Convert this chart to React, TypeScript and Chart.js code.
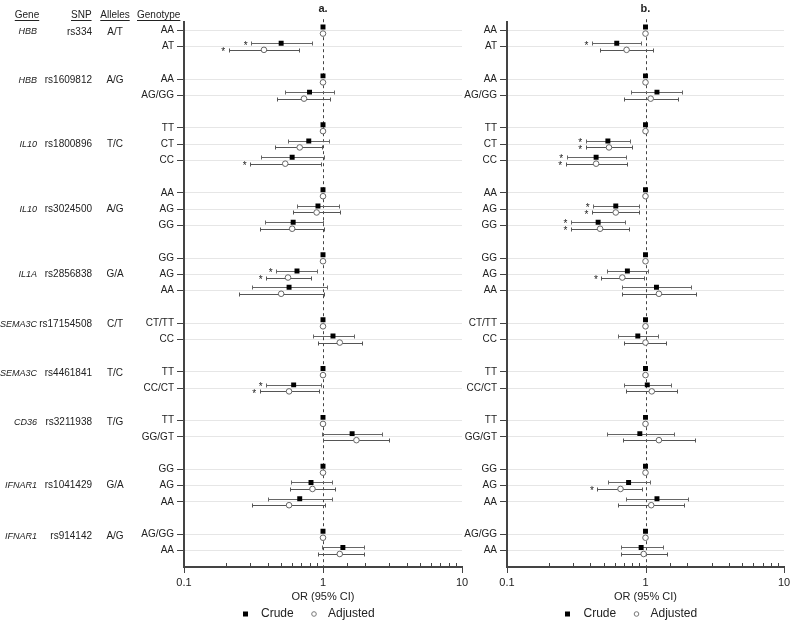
import React, { useEffect, useRef } from 'react';
import { Chart, registerables } from 'chart.js';
Chart.register(...registerables);

const FONT = "'Liberation Sans', Arial, Helvetica, sans-serif";

// ---- table columns ----
const genes = ['HBB', 'HBB', 'IL10', 'IL10', 'IL1A', 'SEMA3C', 'SEMA3C', 'CD36', 'IFNAR1', 'IFNAR1'];
const snps = ['rs334', 'rs1609812', 'rs1800896', 'rs3024500', 'rs2856838', 'rs17154508', 'rs4461841', 'rs3211938', 'rs1041429', 'rs914142'];
const alleles = ['A/T', 'A/G', 'T/C', 'A/G', 'G/A', 'C/T', 'T/C', 'T/G', 'G/A', 'A/G'];
const groupSizes = [2, 2, 3, 3, 3, 2, 2, 2, 3, 2];
const genotypes = ['AA', 'AT', 'AA', 'AG/GG', 'TT', 'CT', 'CC', 'AA', 'AG', 'GG', 'GG', 'AG', 'AA', 'CT/TT', 'CC', 'TT', 'CC/CT', 'TT', 'GG/GT', 'GG', 'AG', 'AA', 'AG/GG', 'AA'];
const headers = ['Gene', 'SNP', 'Alleles', 'Genotype'];
const xTickLabels = [0.1, 1, 10];
const legendLabels = ['Crude', 'Adjusted'];

// ---- panel a ----
const crudeA = [1, 0.50, 1, 0.80, 1, 0.79, 0.60, 1, 0.92, 0.61, 1, 0.65, 0.57, 1, 1.18, 1, 0.615, 1, 1.62, 1, 0.82, 0.68, 1, 1.39];
const crudeLoA = [null, 0.305, null, 0.53, null, 0.56, 0.36, null, 0.65, 0.38, null, 0.46, 0.31, null, 0.85, null, 0.39, null, 0.98, null, 0.59, 0.40, null, 0.99];
const crudeHiA = [null, 0.84, null, 1.20, null, 1.10, 1.02, null, 1.31, 1.00, null, 0.91, 1.06, null, 1.66, null, 0.97, null, 2.65, null, 1.17, 1.17, null, 1.96];
const crudeSigA = [0, 1, 0, 0, 0, 0, 0, 0, 0, 0, 0, 1, 0, 0, 0, 0, 1, 0, 0, 0, 0, 0, 0, 0];
const adjA = [1, 0.376, 1, 0.73, 1, 0.68, 0.535, 1, 0.90, 0.60, 1, 0.56, 0.50, 1, 1.32, 1, 0.57, 1, 1.74, 1, 0.84, 0.57, 1, 1.32];
const adjLoA = [null, 0.21, null, 0.47, null, 0.45, 0.30, null, 0.61, 0.35, null, 0.39, 0.25, null, 0.92, null, 0.35, null, 1.00, null, 0.58, 0.31, null, 0.92];
const adjHiA = [null, 0.67, null, 1.13, null, 0.99, 0.96, null, 1.33, 1.02, null, 0.82, 1.02, null, 1.92, null, 0.93, null, 3.00, null, 1.23, 1.04, null, 1.96];
const adjSigA = [0, 1, 0, 0, 0, 0, 1, 0, 0, 0, 0, 1, 0, 0, 0, 0, 1, 0, 0, 0, 0, 0, 0, 0];

// ---- panel b ----
const crudeB = [1, 0.62, 1, 1.21, 1, 0.535, 0.44, 1, 0.61, 0.455, 1, 0.74, 1.20, 1, 0.88, 1, 1.03, 1, 0.91, 1, 0.755, 1.21, 1, 0.93];
const crudeLoB = [null, 0.41, null, 0.78, null, 0.37, 0.27, null, 0.42, 0.29, null, 0.53, 0.68, null, 0.63, null, 0.70, null, 0.53, null, 0.535, 0.72, null, 0.66];
const crudeHiB = [null, 0.93, null, 1.84, null, 0.775, 0.72, null, 0.90, 0.715, null, 1.045, 2.13, null, 1.24, null, 1.54, null, 1.60, null, 1.07, 2.03, null, 1.33];
const crudeSigB = [0, 1, 0, 0, 0, 1, 1, 0, 1, 1, 0, 0, 0, 0, 0, 0, 0, 0, 0, 0, 0, 0, 0, 0];
const adjB = [1, 0.73, 1, 1.09, 1, 0.545, 0.44, 1, 0.61, 0.47, 1, 0.68, 1.25, 1, 1.00, 1, 1.11, 1, 1.25, 1, 0.66, 1.10, 1, 0.97];
const adjLoB = [null, 0.47, null, 0.70, null, 0.37, 0.265, null, 0.41, 0.29, null, 0.48, 0.68, null, 0.70, null, 0.72, null, 0.69, null, 0.45, 0.63, null, 0.67];
const adjHiB = [null, 1.13, null, 1.72, null, 0.80, 0.74, null, 0.905, 0.755, null, 0.97, 2.32, null, 1.41, null, 1.68, null, 2.27, null, 0.95, 1.90, null, 1.42];
const adjSigB = [0, 0, 0, 0, 0, 1, 1, 0, 1, 1, 0, 1, 0, 0, 0, 0, 0, 0, 0, 0, 1, 0, 0, 0];

// row slots: one empty slot between groups
const rowPos: number[] = [];
const groupStart: number[] = [];
(() => {
  let p = 0;
  groupSizes.forEach((n) => {
    groupStart.push(p);
    for (let i = 0; i < n; i++) rowPos.push(p + i);
    p += n + 1;
  });
})();
const yMax = rowPos[rowPos.length - 1] + 1;

type Panel = {
  title: string;
  crude: number[]; crudeLo: (number | null)[]; crudeHi: (number | null)[]; crudeSig: number[];
  adj: number[]; adjLo: (number | null)[]; adjHi: (number | null)[]; adjSig: number[];
};

const panelA: Panel = { title: 'a.', crude: crudeA, crudeLo: crudeLoA, crudeHi: crudeHiA, crudeSig: crudeSigA, adj: adjA, adjLo: adjLoA, adjHi: adjHiA, adjSig: adjSigA };
const panelB: Panel = { title: 'b.', crude: crudeB, crudeLo: crudeLoB, crudeHi: crudeHiB, crudeSig: crudeSigB, adj: adjB, adjLo: adjLoB, adjHi: adjHiB, adjSig: adjSigB };

const CRUDE_OFF = -0.2;
const ADJ_OFF = 0.2;

function isMajor(v: number) {
  const l = Math.log10(v);
  return Math.abs(l - Math.round(l)) < 1e-6;
}

function makeConfig(panel: Panel, yAxisWidth: number, padRight: number, withTable: boolean): any {
  const forest = {
    id: 'forest',
    beforeDatasetsDraw(chart: any) {
      const { ctx, chartArea: ca, scales } = chart;
      const x = scales.x, y = scales.y;
      ctx.save();
      const x1 = Math.round(x.getPixelForValue(1)) + 0.5;
      ctx.strokeStyle = '#444';
      ctx.lineWidth = 1;
      ctx.setLineDash([3, 3]);
      ctx.beginPath();
      ctx.moveTo(x1, ca.top - 3);
      ctx.lineTo(x1, ca.bottom);
      ctx.stroke();
      ctx.setLineDash([]);
      const series: [any[], any[], number, string][] = [
        [panel.crudeLo, panel.crudeHi, CRUDE_OFF, '#666'],
        [panel.adjLo, panel.adjHi, ADJ_OFF, '#555'],
      ];
      series.forEach(([lo, hi, off, col]) => {
        ctx.strokeStyle = col;
        ctx.lineWidth = 1;
        lo.forEach((l: number | null, i: number) => {
          const h = hi[i];
          if (l == null || h == null) return;
          const yy = Math.round(y.getPixelForValue(rowPos[i] + off)) + 0.5;
          const xl = Math.round(x.getPixelForValue(l)) + 0.5;
          const xh = Math.round(x.getPixelForValue(h)) + 0.5;
          ctx.beginPath();
          ctx.moveTo(xl, yy); ctx.lineTo(xh, yy);
          ctx.moveTo(xl, yy - 2); ctx.lineTo(xl, yy + 2);
          ctx.moveTo(xh, yy - 2); ctx.lineTo(xh, yy + 2);
          ctx.stroke();
        });
      });
      ctx.restore();
    },
    afterDatasetsDraw(chart: any) {
      const { ctx, scales } = chart;
      const x = scales.x, y = scales.y;
      ctx.save();
      ctx.fillStyle = '#222';
      ctx.font = `10px ${FONT}`;
      ctx.textAlign = 'center';
      ctx.textBaseline = 'middle';
      const series: [any[], number[], number][] = [
        [panel.crudeLo, panel.crudeSig, CRUDE_OFF],
        [panel.adjLo, panel.adjSig, ADJ_OFF],
      ];
      series.forEach(([lo, sig, off]) => {
        sig.forEach((s, i) => {
          if (!s || lo[i] == null) return;
          const yy = y.getPixelForValue(rowPos[i] + off);
          const xl = x.getPixelForValue(lo[i]);
          ctx.fillText('*', xl - 5.5, yy + 2.5);
        });
      });
      ctx.restore();
    },
    afterDraw(chart: any) {
      const { ctx, chartArea: ca, scales } = chart;
      const x = scales.x, y = scales.y;
      ctx.save();
      // x tick marks: majors outward, minors inward
      ctx.strokeStyle = '#444';
      ctx.lineWidth = 1;
      x.ticks.forEach((t: any) => {
        const px = Math.round(x.getPixelForValue(t.value)) + 0.5;
        ctx.beginPath();
        if (isMajor(t.value)) {
          ctx.moveTo(px, ca.bottom);
          ctx.lineTo(px, ca.bottom + 6);
        } else {
          ctx.moveTo(px, ca.bottom);
          ctx.lineTo(px, ca.bottom - 4);
        }
        ctx.stroke();
      });
      // legend
      const cx = (ca.left + ca.right) / 2;
      const ly = 614;
      ctx.fillStyle = '#000';
      ctx.fillRect(Math.round(cx - 80.5), ly - 2.5, 5, 5);
      ctx.beginPath();
      ctx.arc(cx - 9, ly, 2.3, 0, Math.PI * 2);
      ctx.fillStyle = '#fff';
      ctx.fill();
      ctx.strokeStyle = '#777';
      ctx.stroke();
      ctx.fillStyle = '#222';
      ctx.font = `12px ${FONT}`;
      ctx.textAlign = 'left';
      ctx.textBaseline = 'middle';
      ctx.fillText(legendLabels[0], cx - 62, ly);
      ctx.fillText(legendLabels[1], cx + 5, ly);

      if (withTable) {
        ctx.font = `10px ${FONT}`;
        ctx.fillStyle = '#222';
        ctx.strokeStyle = '#222';
        const hy = 15;
        const hdr: [string, number, CanvasTextAlign][] = [
          [headers[0], 27, 'center'], [headers[1], 71, 'left'], [headers[2], 115, 'center'], [headers[3], 137, 'left'],
        ];
        hdr.forEach(([t, hx, al]) => {
          ctx.textAlign = al;
          ctx.fillText(t, hx, hy);
          const w = ctx.measureText(t).width;
          const x0 = al === 'center' ? hx - w / 2 : hx;
          ctx.beginPath();
          ctx.moveTo(x0, hy + 5.5);
          ctx.lineTo(x0 + w, hy + 5.5);
          ctx.stroke();
        });
        groupSizes.forEach((n, g) => {
          const pos = n === 3 ? groupStart[g] + 1 : groupStart[g] + 0.1;
          const yy = y.getPixelForValue(pos);
          ctx.font = `italic 9px ${FONT}`;
          ctx.textAlign = 'right';
          ctx.fillText(genes[g], 37, yy);
          ctx.font = `10px ${FONT}`;
          ctx.fillText(snps[g], 92, yy);
          ctx.textAlign = 'center';
          ctx.fillText(alleles[g], 115, yy);
        });
      }
      ctx.restore();
    },
  };

  return {
    type: 'scatter',
    data: {
      datasets: [
        {
          label: legendLabels[0],
          data: panel.crude.map((v, i) => ({ x: v, y: rowPos[i] + CRUDE_OFF })),
          pointStyle: 'rect',
          pointRadius: 3.5,
          pointHoverRadius: 3.5,
          backgroundColor: '#000',
          borderColor: '#000',
          borderWidth: 0,
        },
        {
          label: legendLabels[1],
          data: panel.adj.map((v, i) => ({ x: v, y: rowPos[i] + ADJ_OFF })),
          pointStyle: 'circle',
          pointRadius: 2.8,
          pointHoverRadius: 2.8,
          backgroundColor: '#fff',
          borderColor: '#666',
          borderWidth: 1,
        },
      ],
    },
    options: {
      responsive: false,
      animation: false,
      events: [],
      layout: { padding: { left: 0, right: padRight, top: 0, bottom: 18 } },
      plugins: {
        legend: { display: false },
        tooltip: { enabled: false },
        title: {
          display: true,
          text: panel.title,
          fullSize: false,
          color: '#222',
          font: { family: FONT, size: 11, weight: 'bold' },
          padding: { top: 2, bottom: 7 },
        },
      },
      scales: {
        x: {
          type: 'logarithmic',
          min: 0.1,
          max: 10,
          grid: { display: false, drawTicks: false },
          border: { display: true, color: '#444', width: 2 },
          afterFit: (s: any) => {
            s.height = 38;
            s.paddingLeft = 0;
            s.paddingRight = 0;
          },
          ticks: {
            autoSkip: false,
            maxRotation: 0,
            padding: 9,
            color: '#222',
            font: { family: FONT, size: 11 },
            callback: (v: number) => {
              const m = xTickLabels.find((t) => Math.abs(t - v) < 1e-9);
              return m !== undefined ? String(m) : '';
            },
          },
          title: {
            display: true,
            text: 'OR (95% CI)',
            color: '#222',
            font: { family: FONT, size: 11 },
            padding: { top: 1, bottom: 1 },
          },
        },
        y: {
          type: 'linear',
          reverse: true,
          min: -0.5,
          max: yMax,
          afterBuildTicks: (s: any) => {
            s.ticks = rowPos.map((v) => ({ value: v }));
          },
          afterFit: (s: any) => {
            s.width = yAxisWidth;
            s.paddingTop = 0;
            s.paddingBottom = 0;
          },
          grid: { color: '#e6e6e6', lineWidth: 1, tickColor: '#444', tickLength: 7 },
          border: { display: true, color: '#444', width: 2 },
          ticks: {
            autoSkip: false,
            padding: 3,
            color: '#222',
            font: { family: FONT, size: 10 },
            callback: (_v: number, i: number) => genotypes[i] ?? '',
          },
        },
      },
    },
    plugins: [forest],
  };
}

function ForestChart(props: { panel: Panel; left: number; width: number; yAxisWidth: number; padRight: number; table: boolean }) {
  const ref = useRef<HTMLCanvasElement>(null);
  useEffect(() => {
    if (!ref.current) return;
    const chart = new Chart(ref.current, makeConfig(props.panel, props.yAxisWidth, props.padRight, props.table));
    return () => chart.destroy();
  }, []);
  return (
    <canvas
      ref={ref}
      width={props.width}
      height={623}
      style={{ position: 'absolute', left: props.left, top: 0, width: props.width, height: 623 }}
    />
  );
}

export default function App() {
  return (
    <div style={{ position: 'absolute', left: 0, top: 0, width: 791, height: 623, overflow: 'hidden', background: '#fff' }}>
      <ForestChart panel={panelA} left={0} width={470} yAxisWidth={184} padRight={8} table={true} />
      <ForestChart panel={panelB} left={450} width={341} yAxisWidth={57} padRight={7} table={false} />
    </div>
  );
}
